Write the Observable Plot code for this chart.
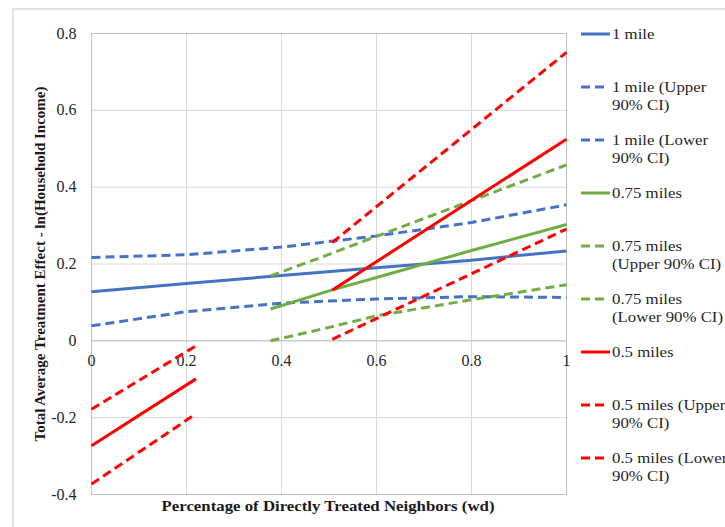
<!DOCTYPE html>
<html><head><meta charset="utf-8">
<script src="https://cdn.jsdelivr.net/npm/d3@7"></script>
<script src="https://cdn.jsdelivr.net/npm/@observablehq/plot@0.6"></script>
<style>
html,body{margin:0;padding:0;background:#fff;overflow:hidden;width:725px;height:527px;}
#wrap{position:relative;width:725px;height:527px;font-family:"Liberation Serif","Times New Roman",serif;color:#262626;overflow:hidden;}
#outer{position:absolute;left:12px;top:8px;width:900px;height:700px;border:2px solid #e3e3e3;box-sizing:border-box;}
#chart{position:absolute;left:0;top:0;}
#chart svg, #chart svg text{font-family:"Liberation Serif","Times New Roman",serif !important;}
.leg{position:absolute;left:581px;font-size:15px;line-height:18px;white-space:pre;}
.leg svg{position:absolute;left:0;top:0;}
.leg span{position:absolute;left:31px;top:-9px;transform:scaleX(1.12);transform-origin:0 50%;}
.title{position:absolute;font-weight:bold;font-size:15px;white-space:nowrap;color:#1a1a1a;}
</style></head>
<body><div id="wrap"><div id="outer"></div><div id="chart"></div></div>
<script>
// ---- data ----
const xTicks = [0, 0.2, 0.4, 0.6, 0.8, 1];
const xTickLabels = ["0", "0.2", "0.4", "0.6", "0.8", "1"];
const yTicks = [-0.4, -0.2, 0, 0.2, 0.4, 0.6, 0.8];
const yTickLabels = ["-0.4", "-0.2", "0", "0.2", "0.4", "0.6", "0.8"];

const x1mile = [0, 0.2, 0.4, 0.6, 0.8, 1];
const mile1 = [0.128, 0.149, 0.170, 0.190, 0.210, 0.234];
const mile1Upper = [0.217, 0.224, 0.244, 0.273, 0.308, 0.354];
const mile1Lower = [0.039, 0.076, 0.098, 0.109, 0.115, 0.113];

const x075 = [0.377, 0.5, 0.6, 0.8, 1];
const miles075 = [0.083, 0.13, 0.165, 0.235, 0.303];
const miles075Upper = [0.169, 0.225, 0.272, 0.365, 0.458];
const miles075Lower = [0.0, 0.035, 0.065, 0.107, 0.146];

const x05 = [0, 0.22, 0.22, 0.507, 1];
const miles05 = [-0.273, -0.099, null, 0.132, 0.525];
const miles05Upper = [-0.178, -0.013, null, 0.256, 0.751];
const miles05Lower = [-0.373, -0.19, null, 0.004, 0.291];

const seriesNames = ["1 mile", "1 mile (Upper\n90% CI)", "1 mile (Lower\n90% CI)",
  "0.75 miles", "0.75 miles\n(Upper 90% CI)", "0.75 miles\n(Lower 90% CI)",
  "0.5 miles", "0.5 miles (Upper\n90% CI)", "0.5 miles (Lower\n90% CI)"];

const xTitle = "Percentage of Directly Treated Neighbors (wd)";
const yTitle = "Total Average Treatment Effect - ln(Household Income)";

// ---- styles ----
const BLUE = "#4472C4", GREEN = "#70AD47", RED = "#FF0000";
const DASH = "9,5";
const FONT = '"Liberation Serif","Times New Roman",serif';
const series = [
  {x: x1mile, y: mile1, color: BLUE, dash: null},
  {x: x1mile, y: mile1Upper, color: BLUE, dash: DASH},
  {x: x1mile, y: mile1Lower, color: BLUE, dash: DASH},
  {x: x075, y: miles075, color: GREEN, dash: null},
  {x: x075, y: miles075Upper, color: GREEN, dash: DASH},
  {x: x075, y: miles075Lower, color: GREEN, dash: DASH},
  {x: x05, y: miles05, color: RED, dash: null},
  {x: x05, y: miles05Upper, color: RED, dash: DASH},
  {x: x05, y: miles05Lower, color: RED, dash: DASH}
].map((s, i) => ({...s, name: seriesNames[i]}));

const lineMarks = series.map(s => {
  const pts = s.x.map((x, i) => ({x, y: s.y[i]}));
  return Plot.line(pts, {x: "x", y: "y", stroke: s.color, strokeWidth: 3,
    strokeDasharray: s.dash ?? undefined, strokeLinecap: "butt", strokeLinejoin: "round"});
});

const xTickData = xTicks.map((v, i) => ({v, label: xTickLabels[i]}));

const plot = Plot.plot({
  width: 725, height: 527,
  marginLeft: 91, marginRight: 159, marginTop: 33, marginBottom: 33,
  style: {fontFamily: FONT, fontSize: "16px", color: "#262626", background: "transparent"},
  x: {domain: [0, 1], axis: null},
  y: {domain: [-0.4, 0.8], axis: null},
  marks: [
    Plot.gridX(xTicks, {stroke: "#d9d9d9", strokeOpacity: 1, strokeWidth: 1}),
    Plot.gridY(yTicks, {stroke: "#d9d9d9", strokeOpacity: 1, strokeWidth: 1}),
    Plot.ruleY([0], {stroke: "#bfbfbf", strokeWidth: 1}),
    Plot.frame({stroke: "#bfbfbf", strokeWidth: 1}),
    Plot.axisY(yTicks, {tickSize: 0, tickPadding: 15, tickFormat: (d, i) => yTickLabels[i], label: null, fontSize: 16, fontFamily: FONT}),
    Plot.text(xTickData, {x: "v", y: () => 0, text: "label", dy: 20, textAnchor: "middle", lineAnchor: "middle", fontSize: 16, fontFamily: FONT, fill: "#262626"}),
    ...lineMarks
  ]
});
document.getElementById("chart").appendChild(plot);

const wrap = document.getElementById("wrap");
// axis titles
const xt = document.createElement("div");
xt.className = "title"; xt.textContent = xTitle;
xt.style.left = "328px"; xt.style.top = "506px"; xt.style.transform = "translate(-50%,-50%) scaleX(1.12)";
wrap.appendChild(xt);
const yt = document.createElement("div");
yt.className = "title"; yt.textContent = yTitle;
yt.style.left = "40px"; yt.style.top = "264px"; yt.style.transform = "translate(-50%,-50%) rotate(-90deg)";
wrap.appendChild(yt);

// legend
series.forEach((s, i) => {
  const d = document.createElement("div");
  d.className = "leg";
  d.style.top = (34 + i * 53) + "px";
  const sw = s.dash
    ? `<svg width="30" height="4" style="top:-2px"><line x1="0" y1="2" x2="23" y2="2" stroke="${s.color}" stroke-width="3" stroke-dasharray="${DASH}"/></svg>`
    : `<svg width="30" height="4" style="top:-2px"><line x1="0" y1="2" x2="29" y2="2" stroke="${s.color}" stroke-width="3"/></svg>`;
  d.innerHTML = sw + `<span>${s.name}</span>`;
  wrap.appendChild(d);
});
</script></body></html>
